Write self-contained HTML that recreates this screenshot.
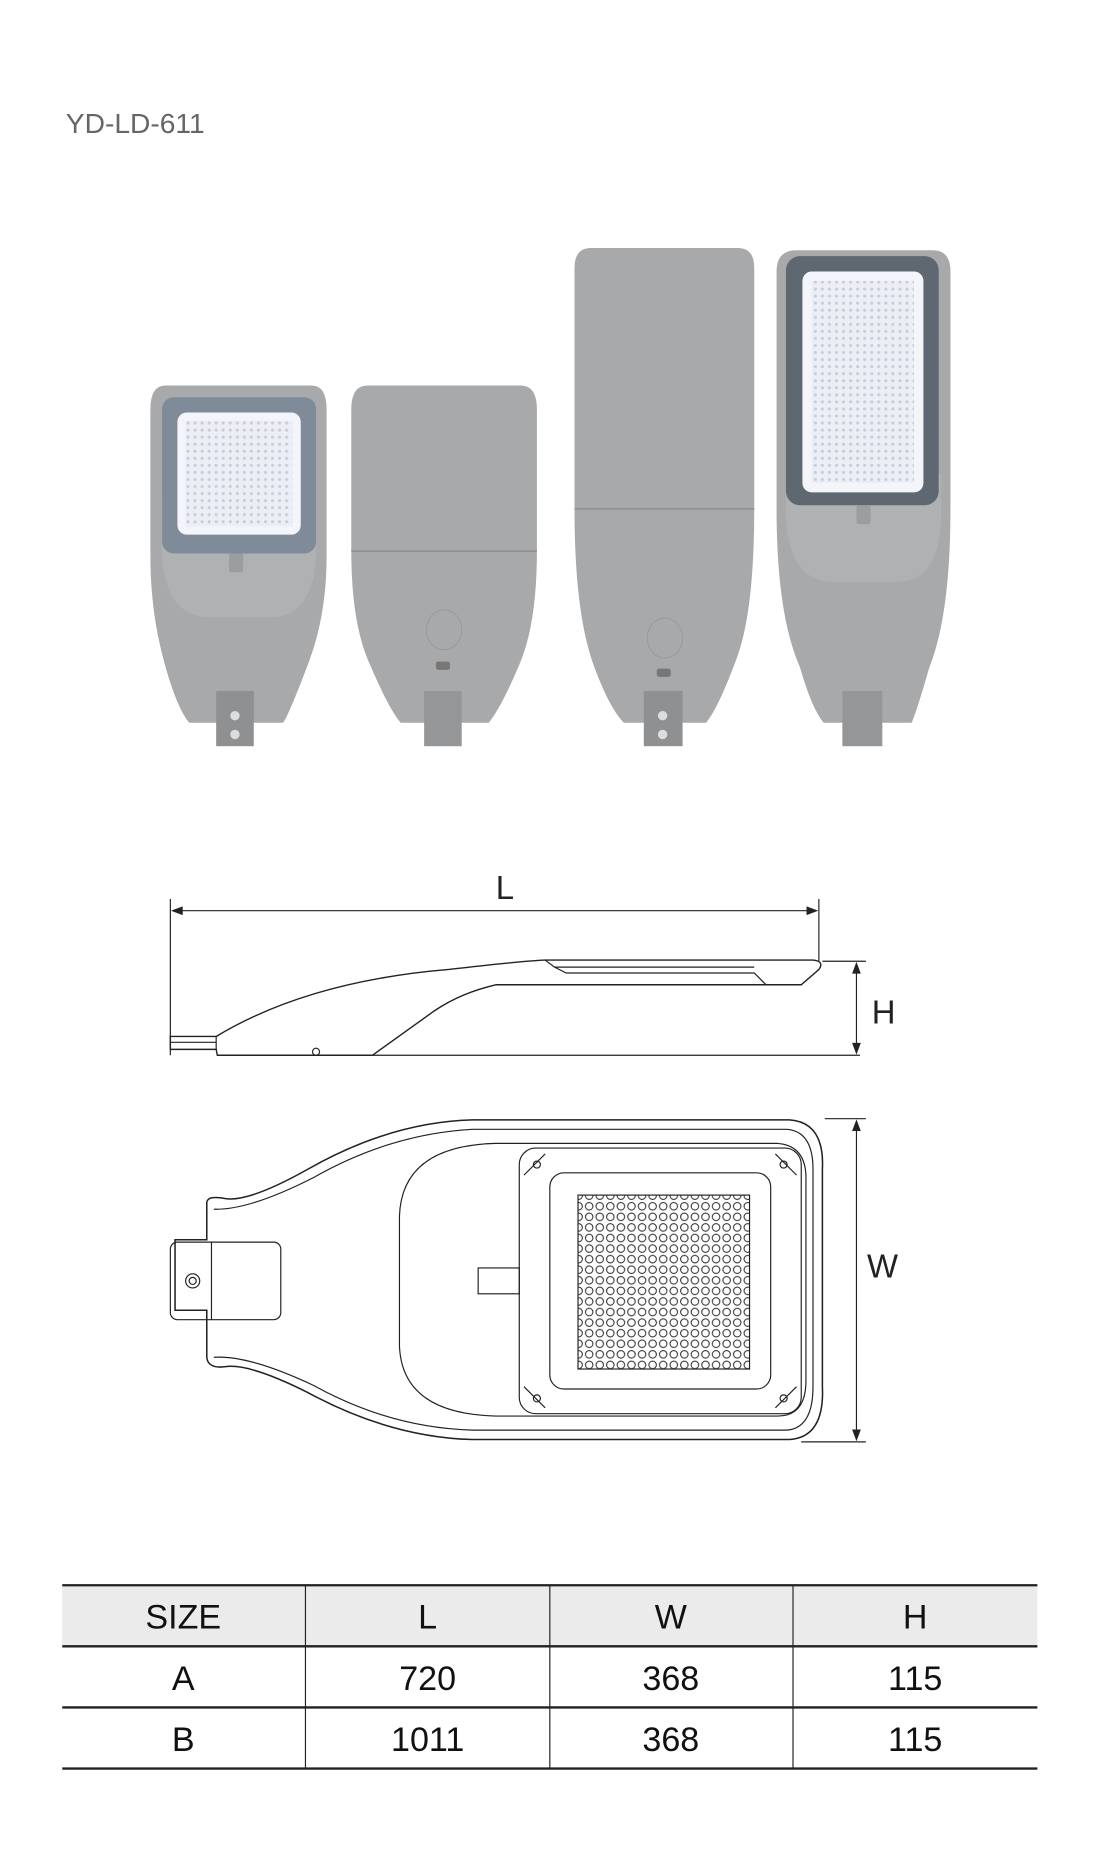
<!DOCTYPE html>
<html><head><meta charset="utf-8"><style>
html,body{margin:0;padding:0;background:#fff;}
svg{display:block}
text{font-family:"Liberation Sans",Arial,sans-serif}
</style></head><body>
<svg width="1102" height="1852" viewBox="0 0 938 1576" preserveAspectRatio="none" xmlns="http://www.w3.org/2000/svg">
<defs>
<pattern id="dots" width="6" height="6" patternUnits="userSpaceOnUse"><rect width="6" height="6" fill="#eceef5"/><circle cx="3" cy="3" r="1.3" fill="#c9cbd8"/></pattern>
<pattern id="leds" width="9" height="9" patternUnits="userSpaceOnUse"><rect width="9" height="9" fill="#fff"/><circle cx="4.5" cy="4.5" r="3.2" fill="none" stroke="#333" stroke-width="0.9"/></pattern>
</defs>
<text x="56" y="113" font-size="24" fill="#666">YD-LD-611</text>

<g transform="translate(1,3)">
<!-- Lamp 1 -->
<g>
<path d="M140 325 H264 Q277 325 277 345 V470 Q277 520 262 560 Q245 605 240 612 H160 Q150 600 140 565 Q127 520 127 470 V345 Q127 325 140 325Z" fill="#a8a9ab"/>
<path d="M137 420 V470 Q140 520 175 522 H232 Q265 520 268 470 V420Z" fill="#b0b1b3"/>
<rect x="137" y="335" width="131" height="133" rx="10" fill="#7f8b98"/>
<rect x="150" y="348" width="105" height="104" rx="8" fill="#f4f5fa"/>
<rect x="157" y="355" width="91" height="90" fill="url(#dots)"/>
<rect x="194" y="468" width="12" height="16" rx="2" fill="#9c9d9f"/>
<rect x="183" y="585" width="32" height="47" fill="#8f9092"/>
<circle cx="199" cy="606" r="4" fill="#ddd"/><circle cx="199" cy="622" r="4" fill="#ddd"/>
</g>
<!-- Lamp 2 -->
<g>
<path d="M312 325 H442 Q456 325 456 345 V466 Q456 530 440 565 Q425 600 415 612 H340 Q330 600 315 565 Q298 530 298 466 V345 Q298 325 312 325Z" fill="#a8a9ab"/>
<line x1="298" y1="466" x2="456" y2="466" stroke="#8c8d8f" stroke-width="1.2"/>
<ellipse cx="377" cy="533" rx="15" ry="17" fill="none" stroke="#999" stroke-width="0.8"/>
<rect x="370" y="560" width="12" height="7" rx="2" fill="#777"/>
<rect x="360" y="585" width="32" height="47" fill="#959698"/>
</g>
<!-- Lamp 3 -->
<g>
<path d="M502 208 H627 Q641 208 641 225 V430 Q641 520 625 560 Q610 600 600 612 H530 Q518 600 505 565 Q488 520 488 430 V225 Q488 208 502 208Z" fill="#a8a9ab"/>
<line x1="488" y1="430" x2="641" y2="430" stroke="#8c8d8f" stroke-width="1.2"/>
<ellipse cx="565" cy="540" rx="15" ry="17" fill="none" stroke="#999" stroke-width="0.8"/>
<rect x="558" y="566" width="12" height="7" rx="2" fill="#777"/>
<rect x="547" y="585" width="33" height="47" fill="#8f9092"/>
<circle cx="563" cy="606" r="4" fill="#ddd"/><circle cx="563" cy="622" r="4" fill="#ddd"/>
</g>
<!-- Lamp 4 -->
<g>
<path d="M677 210 H793 Q808 210 808 228 V430 Q808 520 790 565 Q780 600 775 612 H700 Q690 600 680 565 Q660 520 660 430 V228 Q660 210 677 210Z" fill="#a8a9ab"/>
<path d="M668 400 V440 Q672 490 705 492 H765 Q798 490 800 440 V400Z" fill="#b0b1b3"/>
<rect x="668" y="215" width="130" height="212" rx="12" fill="#5f6771"/>
<rect x="682" y="228" width="103" height="188" rx="8" fill="#f4f5fa"/>
<rect x="690" y="236" width="87" height="172" fill="url(#dots)"/>
<rect x="728" y="427" width="12" height="16" rx="2" fill="#9c9d9f"/>
<rect x="716" y="585" width="34" height="47" fill="#959698"/>
</g>
</g>

<g transform="translate(2,5)">
<g stroke="#222" stroke-width="1" fill="none">
<line x1="143" y1="760" x2="143" y2="893"/>
<line x1="695" y1="760" x2="695" y2="813"/>
<line x1="145" y1="770" x2="693" y2="770"/>
<path d="M145 770 l8 -3 v6z M693 770 l-8 -3 v6z" fill="#222"/>
<path d="M143 877 H182 Q260 830 380 820 Q440 813 462 812 H690 Q700 813 695 820 L680 833 H420 Q390 840 368 855 L315 893 H183 L182 888 H143Z" stroke-width="1.2"/>
<path d="M182 888 V877 M143 882 H182 M462 812 L470 818 H640 M470 818 L480 823 H640 L650 833" />
<path d="M185 893 H730 M698 813 H735"/>
<circle cx="267" cy="890" r="3"/>
<line x1="727" y1="815" x2="727" y2="891"/>
<path d="M727 815 l-3 8 h6z M727 891 l-3 -8 h6z" fill="#222"/>
<path d="M174 1018 Q175 1012 190 1015 Q210 1018 260 990 Q330 950 400 948 H670 Q700 950 698 990 V1175 Q700 1218 670 1220 H400 Q330 1218 260 1180 Q210 1155 190 1158 Q175 1160 174 1150 V1110 H147 V1050 H174Z" stroke-width="1.3"/>
<path d="M180 1024 Q210 1025 265 997 Q330 960 400 956 H668 Q690 958 690 990 V1175 Q690 1210 668 1212 H400 Q330 1210 265 1174 Q210 1148 180 1150"/>
<rect x="143" y="1052" width="94" height="66" rx="6"/>
<line x1="178" y1="1052" x2="178" y2="1118"/>
<circle cx="162" cy="1085" r="6"/><circle cx="162" cy="1085" r="3"/>
<path d="M420 968 H660 Q685 970 684 1000 V1170 Q684 1200 660 1200 H420 Q340 1198 338 1140 V1030 Q340 970 420 968Z"/>
<rect x="440" y="972" width="240" height="226" rx="14"/>
<rect x="466" y="993" width="188" height="184" rx="12"/>
<rect x="490" y="1012" width="146" height="148" fill="url(#leds)" stroke="#222"/>
<rect x="405" y="1074" width="35" height="22"/>
<circle cx="455" cy="986" r="3"/><circle cx="665" cy="986" r="3"/><circle cx="455" cy="1185" r="3"/><circle cx="665" cy="1185" r="3"/>
<path d="M444 995 L462 977 M676 995 L658 977 M444 1175 L462 1193 M676 1175 L658 1193"/>
<line x1="700" y1="947" x2="735" y2="947"/>
<line x1="680" y1="1222" x2="735" y2="1222"/>
<line x1="727" y1="949" x2="727" y2="1220"/>
<path d="M727 949 l-3 8 h6z M727 1220 l-3 -8 h6z" fill="#222"/>
</g>
<text x="420" y="760" font-size="28" fill="#222">L</text>
<text x="740" y="866" font-size="28" fill="#222">H</text>
<text x="736" y="1082" font-size="28" fill="#222">W</text>
</g>

<g transform="translate(1,6)">
<rect x="52" y="1342" width="830" height="53" fill="#ebebeb"/>
<g stroke="#222">
<line x1="52" y1="1343" x2="882" y2="1343" stroke-width="2"/>
<line x1="52" y1="1395" x2="882" y2="1395" stroke-width="2"/>
<line x1="52" y1="1447" x2="882" y2="1447" stroke-width="2"/>
<line x1="52" y1="1499" x2="882" y2="1499" stroke-width="2"/>
<line x1="259" y1="1343" x2="259" y2="1499"/>
<line x1="467" y1="1343" x2="467" y2="1499"/>
<line x1="674" y1="1343" x2="674" y2="1499"/>
</g>
<g font-size="29" fill="#111" text-anchor="middle">
<text x="155" y="1380">SIZE</text><text x="363" y="1380">L</text><text x="570" y="1380">W</text><text x="778" y="1380">H</text>
<text x="155" y="1432">A</text><text x="363" y="1432">720</text><text x="570" y="1432">368</text><text x="778" y="1432">115</text>
<text x="155" y="1484">B</text><text x="363" y="1484">1011</text><text x="570" y="1484">368</text><text x="778" y="1484">115</text>
</g>
</g>
</svg>
</body></html>
